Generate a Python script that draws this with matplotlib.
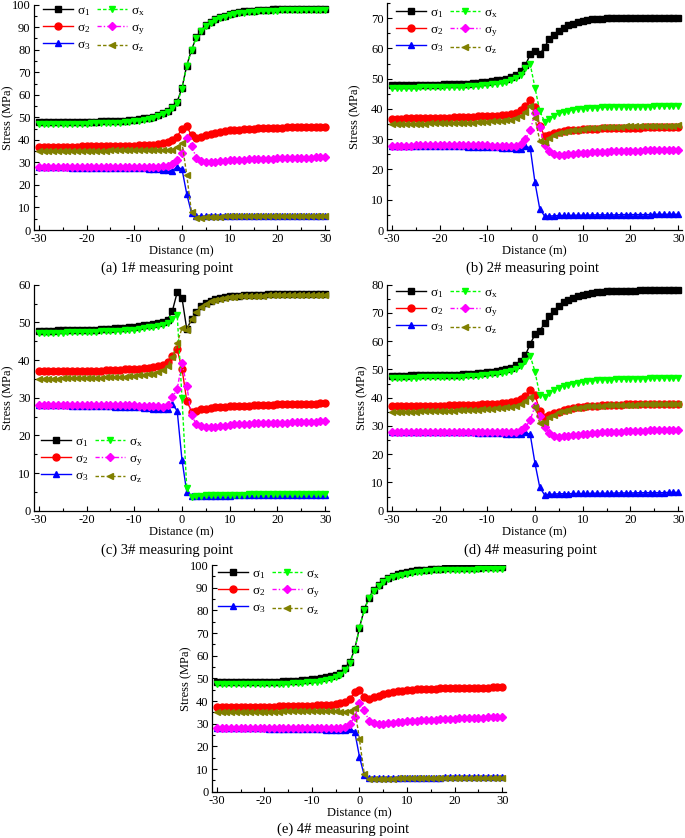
import matplotlib
matplotlib.use("Agg")
import matplotlib.pyplot as plt
from matplotlib.ticker import MultipleLocator
import numpy as np

plt.rcParams['font.family'] = ['Liberation Serif', 'DejaVu Serif']
plt.rcParams['mathtext.fontset'] = 'custom'
plt.rcParams['mathtext.rm'] = 'Liberation Serif'
plt.rcParams['mathtext.it'] = 'Liberation Serif'
plt.rcParams['axes.unicode_minus'] = False

# distance from the face (m), one point per metre
dist = list(range(-30, 31))

# ---- (a) 1# measuring point ----
s1_a = [47.8,47.8,47.8,47.8,47.9,47.9,47.9,47.9,48.0,48.0,48.0,48.1,48.1,48.2,48.3,48.3,48.4,48.5,48.6,48.8,49.0,49.2,49.5,49.8,50.3,
        51.0,51.8,53.0,54.5,57.0,63.0,73.0,80.0,85.5,88.5,91.0,
        92.5,93.6,94.5,95.2,95.8,96.3,96.7,97.0,97.2,97.4,97.6,97.7,97.8,97.9,98.0,98.0,98.0,98.1,98.1,98.1,98.1,98.2,98.2,98.2,98.2]
s2_a = [36.8,36.8,36.8,36.9,36.9,36.9,37.0,37.0,37.0,37.1,37.1,37.1,37.2,37.2,37.2,37.3,37.3,37.4,37.4,37.5,37.5,37.6,37.7,37.8,37.9,
        38.0,38.5,39.0,40.0,41.5,45.0,46.0,42.0,41.0,41.5,42.0,
        42.6,43.1,43.5,43.9,44.2,44.4,44.6,44.8,44.9,45.0,45.1,45.2,45.3,45.3,45.4,45.4,45.5,45.5,45.5,45.6,45.6,45.6,45.6,45.7,45.7]
s3_a = [27.8,27.8,27.8,27.8,27.8,27.8,27.8,27.7,27.7,27.7,27.7,27.7,27.6,27.6,27.6,27.6,27.5,27.5,27.5,27.4,27.4,27.3,27.3,27.2,27.1,
        27.0,26.8,26.5,26.3,28.0,27.0,16.0,7.5,6.0,6.0,6.1,
        6.1,6.1,6.1,6.1,6.2,6.2,6.2,6.2,6.2,6.2,6.2,6.2,6.2,6.3,6.3,6.3,6.3,6.3,6.3,6.3,6.3,6.3,6.3,6.3,6.3]
sx_a = [47.0,47.0,47.0,47.0,47.0,47.0,47.1,47.1,47.1,47.2,47.2,47.3,47.3,47.4,47.5,47.5,47.6,47.7,47.8,48.0,48.2,48.5,48.8,49.2,49.7,
        50.4,51.3,52.5,54.0,56.5,62.5,72.8,80.0,85.2,88.2,90.6,
        92.0,93.1,94.0,94.7,95.3,95.8,96.2,96.5,96.7,96.9,97.1,97.2,97.3,97.4,97.4,97.5,97.5,97.5,97.5,97.6,97.6,97.6,97.6,97.6,97.6]
sy_a = [27.9,27.9,27.9,27.9,27.9,27.9,28.0,28.0,28.0,28.0,28.0,28.0,28.0,28.0,28.0,28.0,28.0,28.0,28.0,28.0,28.0,28.0,28.0,28.0,28.0,
        28.0,28.2,28.5,29.5,31.0,34.0,41.0,37.5,32.0,30.5,30.0,
        30.0,30.2,30.5,30.7,30.9,31.0,31.1,31.2,31.3,31.4,31.5,31.6,31.7,31.7,31.8,31.8,31.9,31.9,32.0,32.0,32.1,32.1,32.2,32.2,32.3]
sz_a = [35.0,35.0,35.0,35.0,35.0,35.1,35.1,35.1,35.1,35.1,35.2,35.2,35.2,35.2,35.2,35.3,35.3,35.3,35.3,35.3,35.4,35.4,35.4,35.4,35.5,
        35.5,35.5,35.5,35.5,37.0,38.8,24.4,7.8,5.3,5.5,5.7,
        5.8,5.9,5.9,6.0,6.0,6.0,6.0,6.0,6.0,6.0,6.0,6.0,6.0,6.0,6.0,6.0,6.0,6.0,6.0,6.0,6.0,6.0,6.0,6.0,6.0]

# ---- (b) 2# measuring point ----
s1_b = [47.8,47.8,47.8,47.8,47.9,47.9,47.9,47.9,48.0,48.0,48.0,48.1,48.1,48.2,48.2,48.3,48.4,48.5,48.6,48.8,49.0,49.2,49.4,49.7,50.0,
        50.5,51.2,52.5,54.5,58.0,59.0,58.0,60.5,63.0,64.5,65.8,
        66.8,67.6,68.2,68.7,69.1,69.4,69.6,69.7,69.8,69.9,69.9,70.0,70.0,70.0,70.0,70.0,70.1,70.1,70.1,70.1,70.1,70.1,70.1,70.1,70.1]
s2_b = [36.8,36.8,36.8,36.9,36.9,36.9,37.0,37.0,37.0,37.0,37.1,37.1,37.1,37.2,37.2,37.3,37.3,37.4,37.5,37.5,37.6,37.7,37.8,37.9,38.0,
        38.2,38.6,39.5,41.0,43.0,40.7,34.5,31.0,31.5,32.0,32.4,
        32.7,32.9,33.1,33.2,33.3,33.4,33.5,33.5,33.6,33.6,33.7,33.7,33.7,33.8,33.8,33.8,33.8,33.9,33.9,33.9,33.9,33.9,34.0,34.0,34.0]
s3_b = [27.8,27.8,27.8,27.8,27.8,27.8,27.8,27.8,27.7,27.7,27.7,27.7,27.7,27.6,27.6,27.6,27.5,27.5,27.5,27.4,27.4,27.3,27.3,27.2,27.1,
        27.0,26.9,26.9,27.6,27.2,15.7,7.0,4.6,4.6,4.7,4.8,
        4.8,4.8,4.9,4.9,4.9,4.9,5.0,5.0,5.0,5.0,5.0,5.0,5.1,5.1,5.1,5.1,5.1,5.1,5.1,5.2,5.2,5.2,5.2,5.2,5.2]
sx_b = [47.0,47.0,47.0,47.0,47.0,47.0,47.1,47.1,47.1,47.1,47.2,47.2,47.2,47.3,47.3,47.4,47.5,47.6,47.7,47.8,48.0,48.2,48.4,48.7,49.0,
        49.5,50.2,51.2,53.5,54.8,47.0,39.3,35.8,36.8,37.8,38.5,
        39.0,39.4,39.7,39.9,40.1,40.2,40.3,40.4,40.5,40.5,40.6,40.6,40.7,40.7,40.7,40.8,40.8,40.8,40.8,40.9,40.9,40.9,40.9,41.0,41.0]
sy_b = [27.9,27.9,27.9,27.9,27.9,28.0,28.0,28.0,28.0,28.0,28.0,28.0,28.0,28.0,28.0,28.0,28.0,28.0,28.0,28.0,28.0,27.9,27.9,27.9,27.9,
        27.9,27.9,28.5,30.0,33.0,38.5,34.0,28.1,26.0,25.0,24.8,
        24.9,25.0,25.2,25.3,25.5,25.6,25.7,25.8,25.9,25.9,26.0,26.0,26.1,26.1,26.2,26.2,26.2,26.3,26.3,26.3,26.4,26.4,26.4,26.5,26.5]
sz_b = [35.0,35.0,35.0,35.0,35.1,35.1,35.1,35.1,35.2,35.2,35.2,35.3,35.3,35.3,35.4,35.4,35.5,35.5,35.6,35.7,35.8,35.9,36.0,36.1,36.3,
        36.5,36.9,37.5,39.0,41.0,37.0,29.5,29.2,30.5,31.3,31.9,
        32.4,32.7,33.0,33.2,33.4,33.6,33.7,33.8,33.9,34.0,34.0,34.1,34.1,34.2,34.2,34.3,34.3,34.3,34.4,34.4,34.4,34.5,34.5,34.5,34.6]

# ---- (c) 3# measuring point ----
s1_c = [47.8,47.8,47.8,47.8,47.9,47.9,47.9,47.9,48.0,48.0,48.0,48.1,48.1,48.2,48.2,48.3,48.4,48.5,48.6,48.7,48.9,49.0,49.2,49.4,49.6,
        49.8,50.2,50.7,53.1,58.0,56.5,48.2,50.8,52.8,54.3,55.2,
        55.8,56.2,56.5,56.7,56.9,57.0,57.1,57.2,57.2,57.3,57.3,57.3,57.4,57.4,57.4,57.4,57.4,57.5,57.5,57.5,57.5,57.5,57.5,57.5,57.5]
s2_c = [37.0,37.0,37.0,37.0,37.0,37.0,37.1,37.1,37.1,37.1,37.1,37.2,37.2,37.2,37.3,37.3,37.4,37.4,37.5,37.5,37.6,37.7,37.8,37.9,38.1,
        38.3,38.8,39.5,41.0,42.8,37.7,29.2,26.3,26.5,26.9,27.1,
        27.3,27.4,27.5,27.6,27.7,27.8,27.8,27.9,27.9,28.0,28.0,28.1,28.1,28.1,28.2,28.2,28.2,28.3,28.3,28.3,28.4,28.4,28.4,28.5,28.5]
s3_c = [28.0,28.0,28.0,28.0,28.0,28.0,28.0,27.9,27.9,27.9,27.9,27.8,27.8,27.8,27.7,27.7,27.6,27.6,27.5,27.5,27.4,27.4,27.3,27.2,27.1,
        27.0,26.9,27.0,28.3,26.5,13.5,5.0,3.8,4.0,4.0,4.0,
        4.0,4.0,4.0,4.0,4.0,4.1,4.1,4.1,4.1,4.1,4.1,4.1,4.1,4.1,4.2,4.2,4.2,4.2,4.2,4.2,4.2,4.2,4.2,4.2,4.2]
sx_c = [47.3,47.3,47.3,47.3,47.3,47.3,47.4,47.4,47.4,47.4,47.5,47.5,47.5,47.6,47.6,47.7,47.7,47.8,47.9,48.0,48.1,48.3,48.5,48.7,48.9,
        49.1,49.4,49.8,51.0,52.0,30.0,6.1,3.6,3.8,4.0,4.1,
        4.1,4.2,4.2,4.2,4.3,4.3,4.3,4.3,4.4,4.4,4.4,4.4,4.4,4.4,4.5,4.5,4.5,4.5,4.5,4.5,4.5,4.5,4.5,4.5,4.5]
sy_c = [28.0,28.0,28.0,28.0,28.0,28.0,28.0,28.0,28.0,28.0,28.0,28.0,28.0,28.0,28.0,28.0,28.0,28.0,28.0,28.0,28.0,27.9,27.9,27.8,27.8,
        27.7,27.5,28.0,30.1,32.3,39.3,33.1,25.3,23.0,22.4,22.1,
        22.2,22.3,22.5,22.6,22.8,22.9,23.0,23.0,23.1,23.2,23.2,23.3,23.3,23.3,23.4,23.4,23.4,23.5,23.5,23.5,23.6,23.6,23.6,23.7,23.7]
sz_c = [35.0,35.0,35.0,35.0,35.0,35.1,35.1,35.1,35.1,35.2,35.2,35.2,35.3,35.3,35.4,35.4,35.5,35.5,35.6,35.7,35.8,35.9,36.0,36.2,36.4,
        36.7,37.3,38.5,40.7,44.6,48.4,48.1,50.8,52.8,54.2,55.0,
        55.6,56.0,56.3,56.5,56.7,56.8,56.9,57.0,57.0,57.1,57.1,57.1,57.2,57.2,57.2,57.2,57.3,57.3,57.3,57.3,57.3,57.3,57.3,57.3,57.3]

# ---- (d) 4# measuring point ----
s1_d = [47.8,47.8,47.8,47.8,47.9,47.9,47.9,47.9,48.0,48.0,48.0,48.1,48.1,48.2,48.2,48.3,48.4,48.5,48.6,48.8,49.0,49.2,49.5,49.8,50.1,
        50.5,51.5,53.0,55.1,59.0,62.4,63.6,66.3,69.0,70.8,72.6,
        73.8,74.7,75.4,75.9,76.4,76.8,77.1,77.3,77.5,77.6,77.7,77.8,77.8,77.9,77.9,77.9,78.0,78.0,78.0,78.0,78.0,78.1,78.1,78.1,78.1]
s2_d = [37.0,37.0,37.0,37.0,37.0,37.1,37.1,37.1,37.1,37.2,37.2,37.2,37.3,37.3,37.3,37.4,37.4,37.5,37.5,37.6,37.7,37.8,37.9,38.0,38.2,
        38.5,39.0,39.5,40.6,42.7,41.0,35.4,33.3,33.8,34.5,35.1,
        35.6,36.0,36.3,36.6,36.8,37.0,37.1,37.2,37.3,37.4,37.4,37.5,37.5,37.6,37.6,37.6,37.7,37.7,37.7,37.7,37.8,37.8,37.8,37.8,37.8]
s3_d = [28.0,28.0,28.0,28.0,28.0,28.0,28.0,27.9,27.9,27.9,27.9,27.9,27.8,27.8,27.8,27.7,27.7,27.7,27.6,27.6,27.5,27.5,27.4,27.4,27.3,
        27.3,27.2,27.3,27.7,27.0,16.8,8.3,5.6,5.8,5.9,6.0,
        6.0,6.0,6.1,6.1,6.1,6.1,6.2,6.2,6.2,6.2,6.2,6.3,6.3,6.3,6.3,6.3,6.4,6.4,6.4,6.4,6.4,6.4,6.5,6.5,6.5]
sx_d = [47.1,47.1,47.1,47.1,47.1,47.1,47.2,47.2,47.2,47.2,47.3,47.3,47.3,47.4,47.4,47.5,47.6,47.7,47.8,47.9,48.1,48.3,48.5,48.8,49.1,
        49.5,50.2,51.2,53.0,54.9,49.2,41.0,40.4,41.8,42.8,43.5,
        44.1,44.6,45.0,45.3,45.6,45.8,46.0,46.1,46.2,46.3,46.4,46.5,46.5,46.6,46.6,46.7,46.7,46.7,46.8,46.8,46.8,46.9,46.9,46.9,47.0]
sy_d = [28.0,28.0,28.0,28.0,28.0,28.0,28.0,28.0,28.0,28.0,28.0,28.0,28.0,28.0,28.0,28.0,28.0,28.0,28.0,28.0,28.0,28.0,27.9,27.9,27.9,
        27.9,28.0,28.5,29.5,32.1,37.0,33.6,29.7,27.4,26.5,26.2,
        26.3,26.5,26.7,26.9,27.1,27.3,27.4,27.6,27.7,27.8,27.9,28.0,28.0,28.1,28.2,28.2,28.3,28.3,28.4,28.4,28.5,28.5,28.6,28.6,28.7]
sz_d = [35.0,35.0,35.0,35.1,35.1,35.1,35.2,35.2,35.2,35.3,35.3,35.3,35.4,35.4,35.5,35.5,35.6,35.7,35.8,35.9,36.0,36.1,36.2,36.4,36.6,
        36.8,37.1,37.6,39.0,40.4,36.8,30.9,31.5,33.0,34.0,34.8,
        35.4,35.8,36.2,36.5,36.7,36.9,37.0,37.1,37.2,37.3,37.3,37.4,37.4,37.5,37.5,37.5,37.6,37.6,37.6,37.6,37.7,37.7,37.7,37.7,37.8]

# ---- (e) 4# measuring point ----
s1_e = [48.2,48.2,48.2,48.2,48.3,48.3,48.3,48.3,48.4,48.4,48.4,48.5,48.5,48.6,48.7,48.8,48.9,49.0,49.1,49.3,49.5,49.7,50.0,50.4,50.9,
        51.5,52.5,54.5,57.4,62.8,72.4,80.4,85.6,89.0,91.3,93.0,
        94.3,95.2,95.9,96.5,96.9,97.3,97.6,97.8,98.0,98.2,98.3,98.4,98.5,98.6,98.6,98.7,98.7,98.8,98.8,98.8,98.9,98.9,98.9,99.0,99.0]
s2_e = [37.2,37.2,37.2,37.2,37.3,37.3,37.3,37.4,37.4,37.4,37.5,37.5,37.5,37.6,37.6,37.7,37.7,37.8,37.8,37.9,38.0,38.1,38.2,38.3,38.4,
        38.6,39.0,39.6,40.8,44.1,44.9,41.9,41.0,41.8,42.4,43.0,
        43.5,43.9,44.2,44.5,44.8,45.0,45.1,45.3,45.4,45.5,45.5,45.6,45.6,45.7,45.7,45.8,45.8,45.8,45.9,45.9,45.9,45.9,46.0,46.0,46.0]
s3_e = [28.0,28.0,28.0,28.0,28.0,28.0,27.9,27.9,27.9,27.9,27.9,27.8,27.8,27.8,27.8,27.7,27.7,27.7,27.6,27.6,27.6,27.5,27.5,27.4,27.4,
        27.3,27.2,27.2,27.8,26.5,15.4,7.2,6.0,6.0,6.1,6.1,
        6.1,6.1,6.1,6.1,6.2,6.2,6.2,6.2,6.2,6.2,6.2,6.2,6.3,6.3,6.3,6.3,6.3,6.3,6.3,6.3,6.3,6.3,6.4,6.4,6.4]
sx_e = [47.3,47.3,47.3,47.3,47.3,47.3,47.4,47.4,47.4,47.4,47.5,47.5,47.5,47.6,47.6,47.7,47.8,47.9,48.0,48.2,48.4,48.6,48.9,49.3,49.8,
        50.5,51.6,53.7,56.8,62.5,72.2,80.2,85.3,88.6,90.9,92.5,
        93.7,94.6,95.3,95.8,96.2,96.6,96.9,97.1,97.3,97.5,97.6,97.7,97.8,97.8,97.9,97.9,98.0,98.0,98.0,98.1,98.1,98.1,98.1,98.2,98.2]
sy_e = [28.2,28.2,28.2,28.2,28.2,28.3,28.3,28.3,28.3,28.3,28.3,28.3,28.3,28.3,28.3,28.3,28.3,28.3,28.3,28.3,28.3,28.3,28.3,28.3,28.3,
        28.3,28.3,28.6,30.0,33.0,39.0,36.0,31.3,30.2,29.9,30.0,
        30.2,30.4,30.6,30.8,31.0,31.2,31.4,31.5,31.6,31.7,31.8,31.9,32.0,32.1,32.2,32.3,32.4,32.4,32.5,32.6,32.7,32.8,32.8,32.9,33.0]
sz_e = [35.0,35.0,35.0,35.0,35.1,35.1,35.1,35.1,35.2,35.2,35.2,35.3,35.3,35.3,35.4,35.4,35.4,35.5,35.5,35.5,35.5,35.5,35.5,35.5,35.5,
        35.4,35.2,35.0,35.5,36.8,23.1,7.8,5.7,5.5,5.6,5.7,
        5.8,5.8,5.9,5.9,5.9,6.0,6.0,6.0,6.0,6.0,6.0,6.0,6.1,6.1,6.1,6.1,6.1,6.1,6.1,6.2,6.2,6.2,6.2,6.2,6.2]

labels = ['σ$_1$', 'σ$_2$', 'σ$_3$', 'σ$_\\mathrm{x}$', 'σ$_\\mathrm{y}$', 'σ$_\\mathrm{z}$']
captions = ['(a) 1# measuring point', '(b) 2# measuring point', '(c) 3# measuring point',
            '(d) 4# measuring point', '(e) 4# measuring point']
ytops = [100, 75, 60, 80, 100]

colors = ['black', 'red', 'blue', '#00ff00', '#ff00ff', '#808000']
markers = ['s', 'o', '^', 'v', 'D', '<']
styles = ['-', '-', '-', (0, (2.5, 1.5)), (0, (3, 1.5, 1, 1.5)), (0, (2.5, 1.5))]
msizes = [4.5, 5, 5, 5, 4, 5]

W, H = 685, 838
fig = plt.figure(figsize=(W / 100, H / 100), dpi=100)

# axes boxes in pixels: left, right, top, bottom
boxes = [(34, 329, 4.7, 230), (387, 682, 3, 230), (34, 329, 284.7, 510.7),
         (387, 682, 284.7, 510.7), (212, 506, 565, 791.7)]
# legend anchor, y-label x and caption position (pixels)
leg_pos = [(40, 2), (393, 4), (38, 433), (393, 284), (215, 565)]
ylab_x = [8, 355, 8, 362, 186]
cap_pos = [(167, 268), (532, 268), (167, 550), (530, 550), (343, 829)]

panels = [
    [s1_a, s2_a, s3_a, sx_a, sy_a, sz_a],
    [s1_b, s2_b, s3_b, sx_b, sy_b, sz_b],
    [s1_c, s2_c, s3_c, sx_c, sy_c, sz_c],
    [s1_d, s2_d, s3_d, sx_d, sy_d, sz_d],
    [s1_e, s2_e, s3_e, sx_e, sy_e, sz_e],
]

for k in range(5):
    l, r, t, b = boxes[k]
    ax = fig.add_axes([l / W, 1 - b / H, (r - l) / W, (b - t) / H])
    for i in range(6):
        ys = panels[k][i]
        assert len(ys) == len(dist), (k, i, len(ys))
        ax.plot(dist, ys, color=colors[i], linestyle=styles[i], lw=1.0,
                marker=markers[i], ms=msizes[i], mec=colors[i], mfc=colors[i],
                label=labels[i], zorder=2 + i)
    ax.set_xlim(-31, 30.8)
    ax.set_ylim(0, ytops[k])
    ax.xaxis.set_major_locator(MultipleLocator(10))
    ax.xaxis.set_minor_locator(MultipleLocator(5))
    ax.yaxis.set_major_locator(MultipleLocator(10))
    ax.yaxis.set_minor_locator(MultipleLocator(5))
    ax.tick_params(which='both', direction='in', labelsize=9, width=0.8)
    ax.tick_params(which='major', length=3.5, pad=2.5)
    ax.tick_params(which='minor', length=2)
    ax.spines['top'].set_visible(False)
    ax.spines['right'].set_visible(False)
    for sp in ['left', 'bottom']:
        ax.spines[sp].set_linewidth(0.9)
    ax.set_xlabel('Distance (m)', fontsize=9, labelpad=0)
    ax.set_ylabel('Stress (MPa)', fontsize=9, va='center')
    ax.yaxis.set_label_coords((ylab_x[k] - l) / (r - l), 0.5)

    lx, ly = leg_pos[k]
    ax.legend(loc='upper left', bbox_to_anchor=(lx / W, 1 - ly / H),
              bbox_transform=fig.transFigure, ncol=2, frameon=False,
              fontsize=9.5, handlelength=2.3, handletextpad=0.3,
              columnspacing=0.5, labelspacing=0.3, borderaxespad=0,
              borderpad=0.2)

    cx, cy = cap_pos[k]
    fig.text(cx / W, 1 - cy / H, captions[k], ha='center', va='center', fontsize=10.5)

fig.savefig('out.png', dpi=100)
